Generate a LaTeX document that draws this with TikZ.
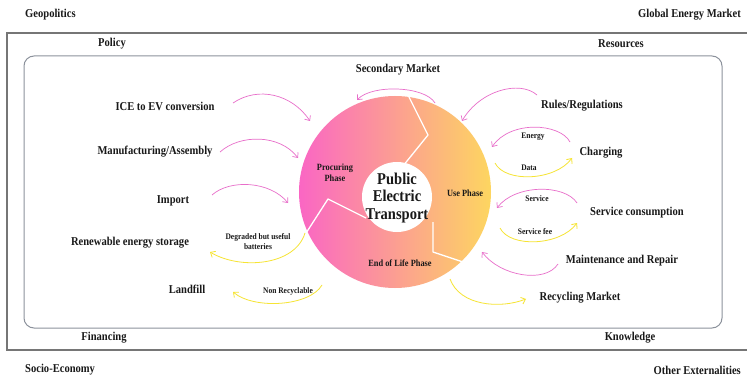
\documentclass[tikz,border=0pt]{standalone}
\usepackage{fontspec}
\setmainfont{Liberation Serif}[FakeStretch=0.88]
\usetikzlibrary{arrows.meta}
\definecolor{flowpink}{RGB}{232,110,202}
\definecolor{flowyellow}{RGB}{246,228,52}
\definecolor{ringpink}{RGB}{250,102,196}
\definecolor{ringmid}{RGB}{250,162,148}
\definecolor{ringyellow}{RGB}{253,214,96}
\definecolor{framegray}{RGB}{118,118,118}
\definecolor{boxgray}{RGB}{140,146,156}
\definecolor{ink}{RGB}{25,25,25}
\begin{document}
\begin{tikzpicture}[x=1pt,y=-1pt,
  lbl/.style={text=ink, font=\bfseries\fontsize{12}{13}\selectfont, inner sep=0pt},
  tag/.style={text=ink, font=\bfseries\fontsize{8.5}{10}\selectfont, inner sep=0pt, align=center},
  phase/.style={text=ink, font=\bfseries\fontsize{9.5}{11}\selectfont, inner sep=0pt, align=center},
  hub/.style={text=ink, font=\bfseries\fontsize{16.5}{17.5}\selectfont, inner sep=0pt, align=center},
  inflow/.style={draw=flowpink, line width=0.7pt, -{Straight Barb[length=4pt,width=7pt]}},
  outflow/.style={draw=flowyellow, line width=0.8pt, -{Straight Barb[length=4pt,width=7pt]}}]
\useasboundingbox (0,0) rectangle (747,377);
\fill[white] (0,0) rectangle (747,377);

% outer frame, open on the right
\draw[framegray, line width=1.1pt] (748,33) -- (7,33) -- (7,350) -- (748,350);
% inner frame
\draw[boxgray, line width=1pt, rounded corners=10pt] (24,56) rectangle (722,328);

% corner labels
\node[lbl, anchor=west] (geo) at (25,15) {Geopolitics};
\node[lbl, anchor=east] (gem) at (741,15) {Global Energy Market};
\node[lbl, anchor=west] (soc) at (25,370) {Socio-Economy};
\node[lbl, anchor=east] (ext) at (741,370) {Other Externalities};
\node[lbl] (pol) at (112,44) {Policy};
\node[lbl] (res) at (621,44) {Resources};
\node[lbl] (fin) at (104,338) {Financing};
\node[lbl] (kno) at (630,338) {Knowledge};

% life-cycle ring
\shade[left color=ringpink, middle color=ringmid, right color=ringyellow] (395,192) circle (96);
\fill[white] (397,197) circle (35);
\draw[white, line width=1.3pt, line join=round] (407,93) -- (428,135) -- (403,166);
\draw[white, line width=1.3pt, line join=round] (299,244) -- (328,199) -- (366,218);
\draw[white, line width=1.3pt, line join=round] (433,222) -- (433,252) -- (475,266);

\node[hub] (pet) at (397,198) {Public\\Electric\\Transport};
\node[phase] (proc) at (335,173) {Procuring\\Phase};
\node[phase] (use) at (465,193) {Use Phase};
\node[phase] (eol) at (400,263) {End of Life Phase};

% surrounding actors
\node[lbl] (sec) at (398,70) {Secondary Market};
\node[lbl] (ice) at (165,106) {ICE to EV conversion};
\node[lbl] (man) at (155,152) {Manufacturing/Assembly};
\node[lbl] (imp) at (173,201) {Import};
\node[lbl] (ren) at (130,243) {Renewable energy storage};
\node[lbl] (lan) at (187,289) {Landfill};
\node[lbl] (rul) at (582,106) {Rules/Regulations};
\node[lbl] (cha) at (601,153) {Charging};
\node[lbl] (ser) at (637,213) {Service consumption};
\node[lbl] (mai) at (622,261) {Maintenance and Repair};
\node[lbl] (rec) at (580,298) {Recycling Market};

% flow tags
\node[tag] (deg) at (258,242) {Degraded but useful\\batteries};
\node[tag] (nrc) at (288,291) {Non Recyclable};
\node[tag] (ene) at (533,137) {Energy};
\node[tag] (dat) at (529,168) {Data};
\node[tag] (svc) at (537,199) {Service};
\node[tag] (fee) at (535,232) {Service fee};

% arrow end points on the ring and beside the actors
\coordinate (secA) at (435,103);  \coordinate (secB) at (357,100);
\coordinate (iceA) at (233,103);  \coordinate (iceB) at (310,121);
\coordinate (manA) at (220,152);  \coordinate (manB) at (298,158);
\coordinate (impA) at (212,195);  \coordinate (impB) at (288,203);
\coordinate (renA) at (305,233);  \coordinate (renB) at (210,252);
\coordinate (lanA) at (322,285);  \coordinate (lanB) at (233,292);
\coordinate (rulA) at (537,95);   \coordinate (rulB) at (462,121);
\coordinate (eneA) at (570,142);  \coordinate (eneB) at (492,147);
\coordinate (datA) at (495,163);  \coordinate (datB) at (572,158);
\coordinate (svcA) at (577,203);  \coordinate (svcB) at (497,208);
\coordinate (feeA) at (500,228);  \coordinate (feeB) at (577,223);
\coordinate (maiA) at (558,264);  \coordinate (maiB) at (482,252);
\coordinate (recA) at (450,279);  \coordinate (recB) at (526,299);

% inflows
\draw[inflow] (secA) .. controls (425,86) and (372,84) .. (secB);
\draw[inflow] (iceA) .. controls (258,86) and (292,94) .. (iceB);
\draw[inflow] (manA) .. controls (240,134) and (280,134) .. (manB);
\draw[inflow] (impA) .. controls (230,179) and (270,181) .. (impB);
\draw[inflow] (rulA) .. controls (520,80) and (480,90) .. (rulB);
\draw[inflow] (eneA) .. controls (560,123) and (510,120) .. (eneB);
\draw[inflow] (svcA) .. controls (565,184) and (515,184) .. (svcB);
\draw[inflow] (maiA) .. controls (545,284) and (500,276) .. (maiB);
% outflows
\draw[outflow] (renA) .. controls (295,266) and (240,270) .. (renB);
\draw[outflow] (lanA) .. controls (310,306) and (255,310) .. (lanB);
\draw[outflow] (datA) .. controls (505,183) and (555,181) .. (datB);
\draw[outflow] (feeA) .. controls (510,248) and (560,246) .. (feeB);
\draw[outflow] (recA) .. controls (460,306) and (500,309) .. (recB);
\end{tikzpicture}
\end{document}
